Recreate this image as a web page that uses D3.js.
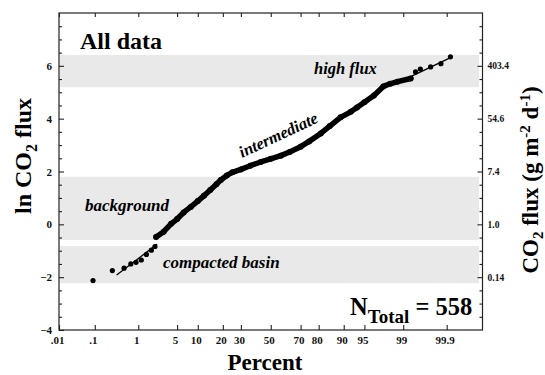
<!DOCTYPE html>
<html><head><meta charset="utf-8">
<script src="https://cdn.jsdelivr.net/npm/d3@7"></script>
<style>body{margin:0;background:#fff}svg{display:block}svg text{font-family:"Liberation Serif","Times New Roman",serif !important;font-weight:bold}</style>
</head><body>
<svg id="c" width="545" height="375"></svg>
<script>
// ---- data ----
const xTickPct = [0.01, 0.1, 1, 5, 10, 20, 30, 50, 70, 80, 90, 95, 99, 99.9];
const xTickLabels = [".01", ".1", "1", "5", "10", "20", "30", "50", "70", "80", "90", "95", "99", "99.9"];
const yTicks = [-4, -2, 0, 2, 4, 6];
const yMinorTicks = [-3.5,-3,-2.5,-1.5,-1,-0.5,0.5,1,1.5,2.5,3,3.5,4.5,5,5.5,6.5,7,7.5];
const rightTicks = [-2, 0, 2, 4, 6];
const rightLabels = ["0.14", "1.0", "7.4", "54.6", "403.4"];

const pctLower = [0.09, 0.27, 0.5, 0.7, 0.9, 1.15, 1.45, 1.8, 2.1];
const lnLower = [-2.13, -1.75, -1.66, -1.50, -1.44, -1.35, -1.14, -0.98, -0.84];
const pctMain = [2.2, 3.0, 4.0, 5.0, 6.3, 8.0, 10, 12, 14.4, 17, 19, 22, 25, 30, 36, 43, 50, 57, 63, 70, 75, 81, 85, 89, 92, 93.5, 95, 96.5, 97.6, 98.2, 98.7, 99.3];
const lnMain = [-0.48, -0.28, 0.02, 0.20, 0.45, 0.66, 0.88, 1.08, 1.30, 1.52, 1.68, 1.85, 1.97, 2.08, 2.22, 2.36, 2.48, 2.60, 2.74, 2.94, 3.14, 3.44, 3.72, 4.05, 4.26, 4.42, 4.62, 4.88, 5.22, 5.32, 5.40, 5.52];
const pctUpper = [99.45, 99.57, 99.75, 99.86, 99.92];
const lnUpper = [5.77, 5.88, 5.96, 6.08, 6.34];
const lowerFitPct = [0.34, 2.3];
const lowerFitLn = [-1.92, -0.75];
const upperFitPct = [99.1, 99.93];
const upperFitLn = [5.50, 6.35];

const bandNames = ["high flux", "background", "compacted basin"];
const bandTop = [6.41, 1.80, -0.82];
const bandBottom = [5.19, -0.59, -2.23];

// ---- inverse normal (probit) ----
function probit(p){
  const a=[-3.969683028665376e+01,2.209460984245205e+02,-2.759285104469687e+02,1.383577518672690e+02,-3.066479806614716e+01,2.506628277459239e+00];
  const b=[-5.447609879822406e+01,1.615858368580409e+02,-1.556989798598866e+02,6.680131188771972e+01,-1.328068155288572e+01];
  const c=[-7.784894002430293e-03,-3.223964580411365e-01,-2.400758277161838e+00,-2.549671010243262e+00,4.374664141464968e+00,2.938163982698783e+00];
  const d=[7.784695709041462e-03,3.224671290700398e-01,2.445134137142996e+00,3.754408661907416e+00];
  const pl=0.02425, ph=1-pl;
  if(p<pl){const q=Math.sqrt(-2*Math.log(p));return (((((c[0]*q+c[1])*q+c[2])*q+c[3])*q+c[4])*q+c[5])/((((d[0]*q+d[1])*q+d[2])*q+d[3])*q+1);}
  if(p<=ph){const q=p-0.5,r=q*q;return (((((a[0]*r+a[1])*r+a[2])*r+a[3])*r+a[4])*r+a[5])*q/(((((b[0]*r+b[1])*r+b[2])*r+b[3])*r+b[4])*r+1);}
  const q=Math.sqrt(-2*Math.log(1-p));return -(((((c[0]*q+c[1])*q+c[2])*q+c[3])*q+c[4])*q+c[5])/((((d[0]*q+d[1])*q+d[2])*q+d[3])*q+1);
}

const svg = d3.select("#c");
const L = 59, R = 482.5, T = 13, B = 330;
const xz = d3.scaleLinear().domain([probit(0.0001), probit(0.9999)]).range([L, R]);
const X = pct => xz(probit(pct / 100));
const y = d3.scaleLinear().domain([-4, 8]).range([B, T]);

// bands
svg.selectAll("rect.band").data(bandTop).join("rect")
  .attr("x", L + 1).attr("width", 478 - L)
  .attr("y", d => y(d)).attr("height", (d, i) => y(bandBottom[i]) - y(d))
  .attr("fill", "#e9e9e9");

// axes
const xTickZ = xTickPct.map(p => probit(p / 100));
const gx = svg.append("g").attr("transform", `translate(0,${B})`)
  .call(d3.axisBottom(xz).tickValues(xTickZ).tickSize(-5).tickPadding(6).tickFormat((d, i) => xTickLabels[i]));
svg.append("g").attr("transform", `translate(0,${T})`)
  .call(d3.axisTop(xz).tickValues(xTickZ).tickSize(-4).tickFormat(""));
const gy = svg.append("g").attr("transform", `translate(${L},0)`)
  .call(d3.axisLeft(y).tickValues(yTicks).tickSize(-5).tickPadding(7).tickFormat(d3.format("d")));
svg.append("g").attr("transform", `translate(${L},0)`)
  .call(d3.axisLeft(y).tickValues(yMinorTicks).tickSize(-3).tickFormat(""));
const gr = svg.append("g").attr("transform", `translate(${R},0)`)
  .call(d3.axisRight(y).tickValues(rightTicks).tickSize(-5).tickPadding(5).tickFormat((d, i) => rightLabels[i]));
svg.append("g").attr("transform", `translate(${R},0)`)
  .call(d3.axisRight(y).tickValues(yMinorTicks).tickSize(-3).tickFormat(""));
svg.selectAll(".domain").remove();
svg.selectAll("g").attr("font-family", null);
svg.selectAll(".tick line").attr("stroke", "#222").attr("stroke-width", 1.1);
gx.selectAll("text").attr("font-size", 11).attr("dx", -2).attr("fill", "#111");
gy.selectAll("text").attr("font-size", 11).attr("fill", "#111");
gr.selectAll("text").attr("font-size", 9.5).attr("fill", "#111");

svg.append("rect").attr("x", L).attr("y", T).attr("width", R - L).attr("height", B - T)
  .attr("fill", "none").attr("stroke", "#222").attr("stroke-width", 1.2);

// fit lines
const line = d3.line().x(d => X(d[0])).y(d => y(d[1]));
svg.append("path").attr("d", line(lowerFitPct.map((p, i) => [p, lowerFitLn[i]])))
  .attr("fill", "none").attr("stroke", "#000").attr("stroke-width", 1.3);
svg.append("path").attr("d", line(upperFitPct.map((p, i) => [p, upperFitLn[i]])))
  .attr("fill", "none").attr("stroke", "#000").attr("stroke-width", 1.3);

// main thick curve
const mainPts = pctMain.map((p, i) => [p, lnMain[i]]);
svg.append("path").attr("d", line(mainPts)).attr("fill", "none").attr("stroke", "#000")
  .attr("stroke-width", 5.5).attr("stroke-linejoin", "round").attr("stroke-linecap", "round");
svg.append("g").selectAll("circle").data(mainPts).join("circle")
  .attr("cx", d => X(d[0])).attr("cy", d => y(d[1])).attr("r", 3).attr("fill", "#000");
// tail points
const tailPts = pctLower.map((p, i) => [p, lnLower[i]]).concat(pctUpper.map((p, i) => [p, lnUpper[i]]));
svg.append("g").selectAll("circle").data(tailPts).join("circle")
  .attr("cx", d => X(d[0])).attr("cy", d => y(d[1])).attr("r", 2.6).attr("fill", "#000");

// labels
svg.append("text").attr("x", 80).attr("y", 49).attr("font-size", 24).text("All data");
svg.append("text").attr("x", 314).attr("y", 74).attr("font-size", 16.5).attr("font-style", "italic").text(bandNames[0]);
svg.append("text").attr("x", 85).attr("y", 211).attr("font-size", 17).attr("font-style", "italic").text(bandNames[1]);
svg.append("text").attr("x", 163).attr("y", 268).attr("font-size", 17).attr("font-style", "italic").text(bandNames[2]);
svg.append("text").attr("transform", "translate(242,158) rotate(-25)").attr("font-size", 16.5).attr("font-style", "italic").text("intermediate");

const nt = svg.append("text").attr("x", 350).attr("y", 315).attr("font-size", 24.5);
nt.append("tspan").text("N");
nt.append("tspan").attr("font-size", 19).attr("dy", 8).text("Total");
nt.append("tspan").attr("dy", -8).text(" = 558");

svg.append("text").attr("x", 265).attr("y", 370).attr("text-anchor", "middle").attr("font-size", 23).text("Percent");

const lt = svg.append("text").attr("transform", "translate(31,156) rotate(-90)").attr("text-anchor", "middle").attr("font-size", 24);
lt.append("tspan").text("ln CO");
lt.append("tspan").attr("font-size", 16).attr("dy", 6).text("2");
lt.append("tspan").attr("dy", -6).text(" flux");

const rt = svg.append("text").attr("transform", "translate(538,180) rotate(-90)").attr("text-anchor", "middle").attr("font-size", 23);
rt.append("tspan").text("CO");
rt.append("tspan").attr("font-size", 15).attr("dy", 5).text("2");
rt.append("tspan").attr("dy", -5).text(" flux (g m");
rt.append("tspan").attr("font-size", 15).attr("dy", -8).text("-2");
rt.append("tspan").attr("dy", 8).text(" d");
rt.append("tspan").attr("font-size", 15).attr("dy", -8).text("-1");
rt.append("tspan").attr("dy", 8).text(")");
</script>
</body></html>
